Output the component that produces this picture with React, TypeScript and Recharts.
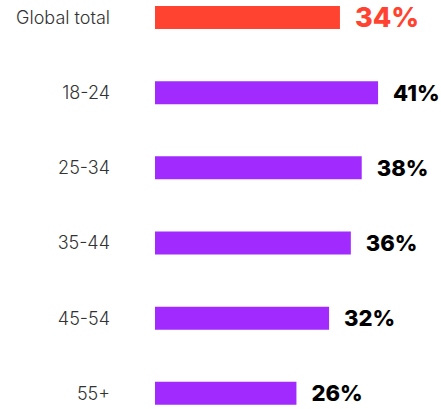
import React from "react";
import { BarChart, Bar, XAxis, YAxis, Cell, LabelList } from "recharts";

const categories = ["Global total", "18-24", "25-34", "35-44", "45-54", "55+"];
const shares = [34, 41, 38, 36, 32, 26];

const RED = "#FF4330";
const PURPLE = "#A12BFE";

const data = categories.map((name, i) => ({ name, value: shares[i] }));

const ValueLabel = (props: any) => {
  const { x, y, width, height, value, index } = props;
  const isTotal = index === 0;
  const fontSize = isTotal ? 27 : 22;
  return (
    <text
      x={x + width + 15}
      y={y + height / 2 + fontSize * 0.37}
      fill={isTotal ? RED : "#000"}
      fontSize={fontSize}
      fontWeight={800}
      fontFamily="Inter, sans-serif"
    >
      {value}%
    </text>
  );
};

const App: React.FC = () => {
  return (
    <div
      style={{
        position: "absolute",
        left: 0,
        top: 0,
        width: 441,
        height: 409,
        overflow: "hidden",
        background: "#fff",
      }}
    >
      <BarChart
        width={441}
        height={451}
        data={data}
        layout="vertical"
        margin={{ top: 0, right: 14, bottom: 0, left: 0 }}
        style={{ position: "relative", top: -20 }}
      >
        <XAxis type="number" domain={[0, 50]} hide />
        <YAxis
          type="category"
          dataKey="name"
          width={155}
          axisLine={false}
          tickLine={false}
          tickSize={0}
          tickMargin={45}
          tick={{
            fill: "#333",
            fontSize: 18,
            fontWeight: 300,
            fontFamily: "Inter, sans-serif",
          }}
        />
        <Bar dataKey="value" barSize={23} isAnimationActive={false}>
          {data.map((d, i) => (
            <Cell key={d.name} fill={i === 0 ? RED : PURPLE} />
          ))}
          <LabelList dataKey="value" content={ValueLabel} />
        </Bar>
      </BarChart>
    </div>
  );
};

export default App;
